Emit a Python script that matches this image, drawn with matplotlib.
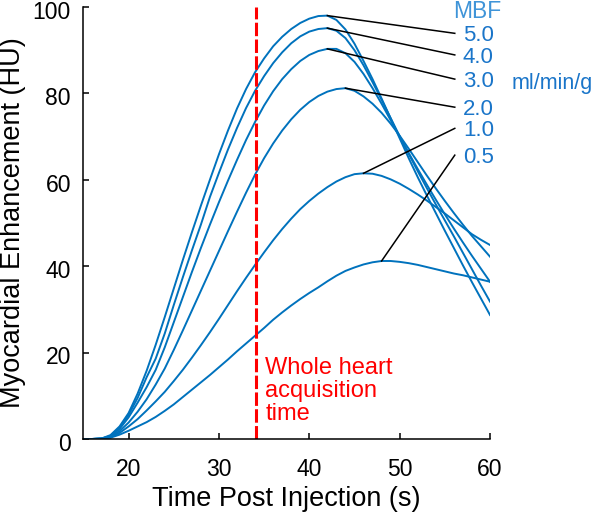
import matplotlib
matplotlib.use("Agg")
import matplotlib.pyplot as plt
import matplotlib.transforms as mtrans
import numpy as np

plt.rcParams['font.family'] = ['Liberation Sans', 'DejaVu Sans']

# time grid (s) and enhancement curves (HU)
t = list(range(15, 61))

mbf_labels = ["5.0", "4.0", "3.0", "2.0", "1.0", "0.5"]

hu_50 = [0, 0, 0.1, 0.9, 2.9, 6.0, 10.5, 15.8, 21.8, 28.2, 34.8, 41.4, 47.8, 54.0, 60.0,
         65.9, 71.4, 76.5, 81.0, 84.9, 88.1, 90.9, 93.1, 94.9, 96.3, 97.3, 97.9, 98.0,
         97.0, 94.8, 91.5, 87.5, 83.3, 78.8, 74.2, 69.6, 65.0, 60.6, 56.4, 52.3, 48.2,
         44.2, 40.2, 36.3, 32.5, 28.7]
hu_40 = [0, 0, 0.1, 0.7, 2.6, 5.6, 9.5, 14.3, 18.6, 24.4, 31.0, 37.4, 43.6, 49.6, 56.0,
         61.6, 67.0, 72.0, 76.6, 80.6, 84.0, 87.0, 89.5, 91.6, 93.2, 94.3, 94.9, 95.1,
         94.5, 92.8, 90.0, 86.5, 82.6, 78.5, 74.3, 70.1, 66.0, 62.0, 58.1, 54.3, 50.6,
         46.9, 43.1, 39.3, 35.5, 31.8]
hu_30 = [0, 0, 0.1, 0.6, 2.3, 5.0, 8.4, 12.0, 16.0, 21.2, 27.0, 32.8, 38.6, 44.2, 49.6,
         54.8, 59.8, 64.6, 69.2, 73.4, 77.2, 80.5, 83.3, 85.6, 87.5, 88.9, 89.8, 90.3,
         90.3, 89.3, 87.3, 84.5, 81.2, 77.6, 73.8, 70.0, 66.2, 62.5, 58.9, 55.4, 52.0,
         48.7, 45.5, 42.4, 39.4, 36.4]
hu_20 = [0, 0, 0.1, 0.5, 1.8, 3.8, 6.3, 9.2, 12.6, 16.3, 20.6, 25.1, 29.7, 34.3, 38.9,
         43.5, 48.1, 52.6, 57.0, 61.2, 65.0, 68.4, 71.4, 74.0, 76.2, 78.0, 79.4, 80.4,
         81.0, 81.2, 80.6, 79.3, 77.6, 75.5, 73.0, 70.2, 67.2, 64.1, 61.0, 58.0, 55.1,
         52.3, 49.6, 47.0, 44.6, 42.2]
hu_10 = [0, 0, 0.05, 0.4, 1.4, 2.9, 4.6, 6.6, 8.7, 10.9, 13.4, 16.0, 18.8, 21.7, 24.7,
         27.8, 31.0, 34.2, 37.3, 40.3, 43.2, 46.0, 48.6, 51.0, 53.2, 55.1, 56.8, 58.3,
         59.6, 60.6, 61.3, 61.5, 61.4, 60.9, 60.1, 59.1, 57.9, 56.6, 55.2, 53.7, 52.2,
         50.6, 49.0, 47.4, 46.1, 44.9]
hu_05 = [0, 0, 0.03, 0.3, 1.0, 1.9, 2.9, 3.9, 5.1, 6.5, 8.0, 9.7, 11.4, 13.1, 14.8,
         16.6, 18.4, 20.3, 22.1, 23.9, 25.7, 27.6, 29.3, 30.9, 32.4, 33.8, 35.1, 36.5,
         37.8, 38.9, 39.7, 40.4, 40.9, 41.2, 41.2, 41.0, 40.7, 40.3, 39.8, 39.3, 38.8,
         38.3, 37.9, 37.4, 36.9, 36.4]

curves = [hu_50, hu_40, hu_30, hu_20, hu_10, hu_05]
# where the label leader lines end (HU level next to each label)
label_y = [93.9, 88.9, 83.3, 76.8, 71.9, 65.7]
acq_time = 34.15

blue = '#0072BD'
fig = plt.figure(figsize=(6, 5.13), dpi=100)
ax = fig.add_axes([0.139, 0.1443, 0.6777, 0.8421])

for hu in curves:
    ax.plot(t, hu, color=blue, lw=1.4)

ax.axvline(acq_time, color='#FF0000', lw=2.2, ls=(0, (4.4, 1.1)))
ax.text(acq_time + 1.0, 19.0, "Whole heart\nacquisition\ntime", color='#FF0000',
        fontsize=17, va='top', ha='left', linespacing=1.05)

for hu, lab, ly in zip(curves, mbf_labels, label_y):
    i = int(np.argmax(hu))
    ax.plot([t[i], 56.1], [hu[i], ly], color='black', lw=1.1, clip_on=False)
    ax.text(57.0, ly - 0.5, lab, color='#1a75c9', fontsize=16, va='center', ha='left',
            clip_on=False)
ax.text(58.6, 99.0, "MBF", color='#3f94d8', fontsize=16.5, va='center', ha='center',
        clip_on=False)
ax.text(62.4, 82.4, "ml/min/g", color='#1a75c9', fontsize=15.5, va='center', ha='left',
        clip_on=False)

ax.set_xlim(15, 60)
ax.set_ylim(0, 100)
ax.set_xticks([20, 30, 40, 50, 60])
ax.set_yticks([0, 20, 40, 60, 80, 100])
ax.spines['top'].set_visible(False)
ax.spines['right'].set_visible(False)
for s in ['left', 'bottom']:
    ax.spines[s].set_linewidth(1.1)
ax.tick_params(axis='both', direction='in', length=4, width=1.1, labelsize=16.5)
ax.tick_params(axis='x', pad=14)
ax.tick_params(axis='y', pad=9)
shift = mtrans.ScaledTranslation(0, -2 / 72, fig.dpi_scale_trans)
for lab in ax.get_yticklabels():
    lab.set_transform(lab.get_transform() + shift)
ax.set_xlabel("Time Post Injection (s)", fontsize=19.5, labelpad=3)
ax.set_ylabel("Myocardial Enhancement (HU)", fontsize=19.5, labelpad=5)

fig.savefig("out.png", dpi=100)
